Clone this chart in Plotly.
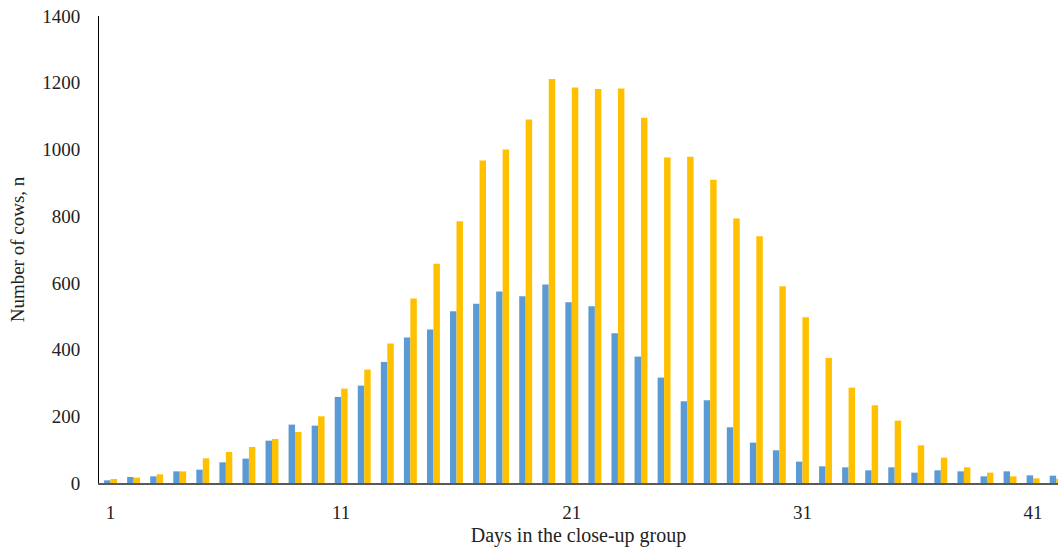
import plotly.graph_objects as go

# Days spent in the close-up group (1..42)
days = list(range(1, 43))

# Number of cows per day, first series (blue)
cows_blue = [8, 18, 20, 35, 40, 62, 73, 127, 175, 172,
             258, 292, 363, 436, 460, 515, 537, 574, 560, 595,
             542, 530, 449, 379, 316, 245, 248, 167, 121, 98,
             64, 50, 47, 38, 47, 31, 38, 35, 20, 35,
             23, 22]

# Number of cows per day, second series (yellow)
cows_yellow = [12, 16, 26, 35, 74, 93, 108, 132, 153, 200,
               283, 340, 418, 553, 657, 785, 967, 1000, 1090, 1211,
               1186, 1181, 1183, 1095, 976, 978, 909, 793, 740, 590,
               497, 375, 286, 233, 187, 113, 76, 47, 31, 20,
               14, 13]

x_tickvals = [1, 11, 21, 31, 41]
y_tickvals = [0, 200, 400, 600, 800, 1000, 1200, 1400]

FONT = "Liberation Serif, Times New Roman, serif"

fig = go.Figure()
fig.add_trace(go.Bar(x=days, y=cows_blue, marker=dict(color="#5B9BD5", line=dict(width=0)),
                     name="Series 1"))
fig.add_trace(go.Bar(x=days, y=cows_yellow, marker=dict(color="#FFC000", line=dict(width=0)),
                     name="Series 2"))

fig.update_layout(
    width=1058, height=548,
    margin=dict(l=99, r=0, t=16, b=65),
    paper_bgcolor="white", plot_bgcolor="white",
    barmode="group", bargap=0.44, bargroupgap=0,
    showlegend=False,
    font=dict(family=FONT, size=19, color="#222222"),
)

fig.update_xaxes(
    range=[0.5, 42.08],
    tickmode="array", tickvals=x_tickvals, ticktext=[str(v) for v in x_tickvals],
    ticks="outside", ticklen=11, tickcolor="rgba(0,0,0,0)",
    showgrid=False, zeroline=False,
    showline=True, linecolor="#595959", linewidth=2,
    title=dict(text="Days in the close-up group", font=dict(family=FONT, size=20), standoff=6),
)

fig.update_yaxes(
    range=[0, 1400],
    tickmode="array", tickvals=y_tickvals,
    ticks="outside", ticklen=14, tickcolor="rgba(0,0,0,0)",
    showgrid=False, zeroline=False,
    showline=True, linecolor="#000000", linewidth=1,
    title=dict(text="Number of cows, n", font=dict(family=FONT, size=19), standoff=12),
)

fig.write_html("out.html")
